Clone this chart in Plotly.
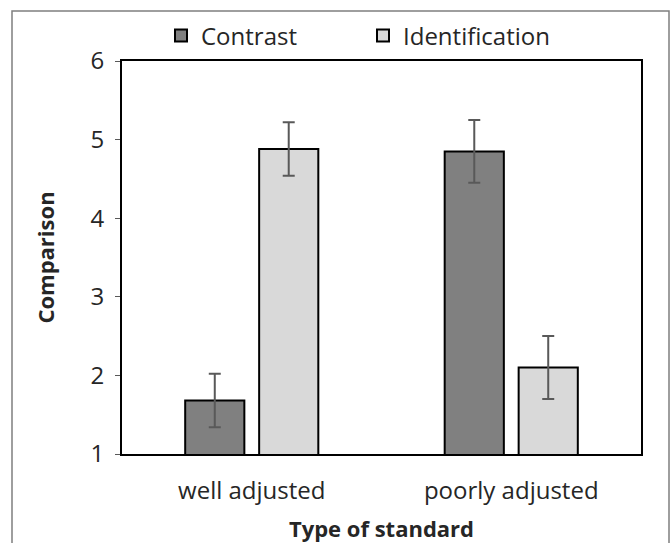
import plotly.graph_objects as go

categories = ["well adjusted", "poorly adjusted"]
contrast = [1.68, 4.85]
contrast_err = [0.34, 0.40]
identification = [4.88, 2.10]
identification_err = [0.34, 0.40]
y_ticks = [1, 2, 3, 4, 5, 6]

FONT = "Open Sans"

fig = go.Figure()
fig.add_trace(go.Bar(
    name="Contrast", x=categories, y=contrast,
    marker=dict(color="#808080", line=dict(color="black", width=2)),
    error_y=dict(type="data", array=contrast_err, color="#595959", thickness=2, width=6),
))
fig.add_trace(go.Bar(
    name="Identification", x=categories, y=identification,
    marker=dict(color="#d9d9d9", line=dict(color="black", width=2)),
    error_y=dict(type="data", array=identification_err, color="#595959", thickness=2, width=6),
))

fig.update_layout(
    width=672, height=543,
    margin=dict(l=122, r=31, t=61, b=89),
    paper_bgcolor="white", plot_bgcolor="white",
    barmode="group", bargap=0.43, bargroupgap=0.2,
    font=dict(family=FONT, color="#262626", size=24),
    legend=dict(orientation="h", x=(203 - 42 - 122) / 519, xanchor="left", y=1.064, yanchor="middle",
                font=dict(size=24, color="#262626"), itemsizing="constant",
                entrywidth=157, entrywidthmode="pixels", traceorder="normal", itemwidth=30),
    xaxis=dict(showline=True, linecolor="black", linewidth=2, mirror=True, automargin=False,
               ticks="", tickfont=dict(size=24), ticklabelstandoff=14,
               title=dict(text="<b>Type of standard</b>", font=dict(size=22), standoff=18)),
    yaxis=dict(range=[1, 6], tickvals=y_ticks, showline=True, linecolor="black", linewidth=2,
               mirror=True, ticks="outside", ticklen=5, tickcolor="#595959", automargin=False,
               showgrid=False, zeroline=False, tickfont=dict(size=24), ticklabelstandoff=6,
               title=dict(text="<b>Comparison</b>", font=dict(size=22), standoff=30)),
    shapes=[dict(type="rect", xref="paper", yref="paper",
                 x0=(12 - 122) / 519, x1=(669 - 122) / 519,
                 y0=-(560 - 454) / 393, y1=1 + (61 - 11) / 393,
                 line=dict(color="#7f7f7f", width=1.5), fillcolor="rgba(0,0,0,0)")],
)

fig.write_html("out.html", config={"displayModeBar": False},
               post_script="document.body.style.margin='0';")
